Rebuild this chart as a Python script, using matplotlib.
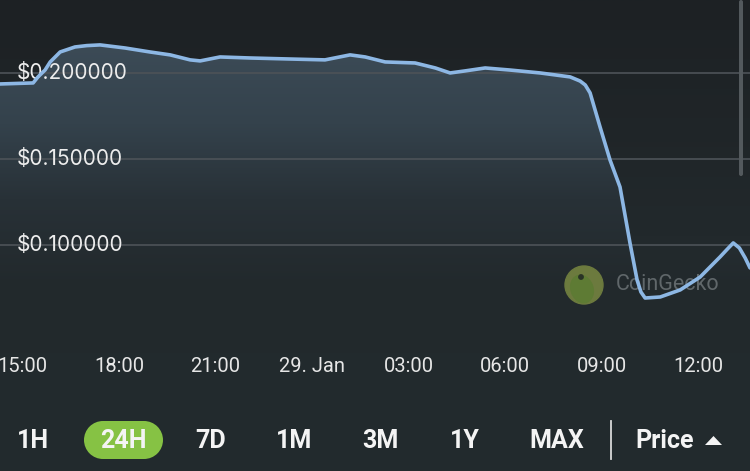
import numpy as np
import matplotlib
matplotlib.use("Agg")
import matplotlib.pyplot as plt
from matplotlib.colors import LinearSegmentedColormap
from matplotlib.patches import Circle, Ellipse, FancyBboxPatch, Polygon

# ---- data (hours since 00:00 28 Jan) ----
hours = [14.30, 15.33, 15.48, 15.70, 15.86, 16.17, 16.63, 17.00, 17.41, 18.19, 18.96, 19.59, 20.21,
         20.52, 21.14, 22.07, 23.32, 24.40, 25.18, 25.65, 26.27, 27.20, 27.83,
         28.29, 28.76, 29.38, 30.15, 31.09, 32.02, 32.33, 32.49, 32.64, 32.95, 33.26,
         33.57, 33.88, 34.10, 34.22, 34.35, 34.82, 35.44, 36.06, 36.68, 36.90, 37.09, 37.28, 37.46, 37.61]
price = [0.1936, 0.1942, 0.1977, 0.2017, 0.2064, 0.2122, 0.2151, 0.2159, 0.2163, 0.2145, 0.2122, 0.2105, 0.2076,
         0.2070, 0.2093, 0.2087, 0.2081, 0.2076, 0.2105, 0.2093, 0.2064, 0.2058, 0.2029,
         0.2000, 0.2012, 0.2029, 0.2017, 0.2000, 0.1977, 0.1953, 0.1930, 0.1884, 0.1686, 0.1494,
         0.1337, 0.1012, 0.0797, 0.0727, 0.0692, 0.0698, 0.0739, 0.0814, 0.0931, 0.0975, 0.1012, 0.0983, 0.0925, 0.0867]
y_ticks = [0.10, 0.15, 0.20]
y_labels = ["$0.100000", "$0.150000", "$0.200000"]
x_ticks = [15, 18, 21, 24, 27, 30, 33, 36]
x_labels = ["15:00", "18:00", "21:00", "29. Jan", "03:00", "06:00", "09:00", "12:00"]
buttons = ["1H", "24H", "7D", "1M", "3M", "1Y", "MAX"]
active_button = "24H"

W, H = 750, 471
fig = plt.figure(figsize=(W / 100, H / 100), dpi=100)
fig.patch.set_facecolor("#21272a")

# background gradient
bg = fig.add_axes([0, 0, 1, 1], zorder=0)
bg.set_axis_off()
bgcmap = LinearSegmentedColormap.from_list("bg", ["#1d2124", "#22292c", "#232b2e"])
bg.imshow(np.linspace(0, 1, 256).reshape(-1, 1), cmap=bgcmap, aspect="auto",
          extent=[0, 1, 0, 1], origin="upper")
bg.set_xlim(0, 1); bg.set_ylim(0, 1)

# chart axes: pixel rows 0..340
ax = fig.add_axes([0, (H - 340) / H, 1, 340 / H], zorder=1)
ax.patch.set_alpha(0)
xmin, xmax = 14.30, 37.61
ymin, ymax = 0.0448, 0.2424
ax.set_xlim(xmin, xmax)
ax.set_ylim(ymin, ymax)
for s in ax.spines.values():
    s.set_visible(False)
ax.set_yticks([])
ax.set_xticks([])

# gridlines + labels
for v, lab in zip(y_ticks, y_labels):
    ax.axhline(v, color="#4d5358", lw=1.2, zorder=2)
    ax.text(xmin + 17 / 750 * (xmax - xmin), v, lab, family=["Inter", "DejaVu Sans"],
            fontsize=15, color="#ececec", va="center", ha="left", zorder=4)

# gradient fill under line
fillcmap = LinearSegmentedColormap.from_list(
    "fill", [(0.0, "#3d4c58"), (0.35, "#34424c"), (0.65, "#283137"), (1.0, "#22292c")])
grad = ax.imshow(np.linspace(0, 1, 256).reshape(-1, 1), cmap=fillcmap, aspect="auto",
                 extent=[xmin, xmax, 0.075, 0.222], origin="upper", zorder=1)
poly = Polygon(list(zip(hours, price)) + [(hours[-1], ymin), (hours[0], ymin)],
               closed=True, transform=ax.transData, facecolor="none", edgecolor="none")
ax.add_patch(poly)
grad.set_clip_path(poly)
ax.set_xlim(xmin, xmax)
ax.set_ylim(ymin, ymax)

# watermark + scrollbar
fig_ax = fig.add_axes([0, 0, 1, 1], zorder=1.5)
fig_ax.set_axis_off()
fig_ax.set_xlim(0, W); fig_ax.set_ylim(H, 0)
fig_ax.add_patch(Circle((584, 285), 19, color="#6c7a3e", zorder=1))
fig_ax.add_patch(Ellipse((582, 289), 22, 28, angle=-20, color="#5e7b34", zorder=2))
fig_ax.add_patch(Circle((581, 277), 2.2, color="#2a3326", zorder=3))
fig_ax.text(616, 285, "CoinGecko", family=["Roboto", "DejaVu Sans"], fontsize=15.5,
            color="#60676a", va="center", ha="left")
fig_ax.add_patch(FancyBboxPatch((739, 0), 4, 176, boxstyle="round,pad=0,rounding_size=2",
                                color="#53595d", lw=0))

# line on top
ax2 = fig.add_axes(ax.get_position(), zorder=3)
ax2.patch.set_alpha(0)
ax2.set_xlim(xmin, xmax); ax2.set_ylim(ymin, ymax)
ax2.set_axis_off()
ax2.plot(hours, price, color="#8db7e4", lw=2.6, solid_joinstyle="round",
         solid_capstyle="round")

# x tick labels
ui = fig.add_axes([0, 0, 1, 1], zorder=4)
ui.set_axis_off()
ui.set_xlim(0, W); ui.set_ylim(H, 0)
for t, lab in zip(x_ticks, x_labels):
    px = (t - xmin) / (xmax - xmin) * W
    ui.text(px, 366, lab, family=["Roboto", "DejaVu Sans"], fontsize=14.5,
            color="#e6e6e6", ha="center", va="center")

# buttons
bx = [33, 123, 211, 294, 380, 465, 557]
for x, lab in zip(bx, buttons):
    if lab == active_button:
        ui.add_patch(Circle((103, 440), 19, color="#86c244", lw=0))
        ui.add_patch(Circle((144, 440), 19, color="#86c244", lw=0))
        ui.add_patch(plt.Rectangle((103, 421), 41, 38, color="#86c244", lw=0))
    ui.text(x, 441, lab, family=["Roboto", "DejaVu Sans"], fontweight="bold",
            fontsize=18, color="#f4f4f4", ha="center", va="center")
ui.plot([610.5, 610.5], [421, 459], color="#d8d8d8", lw=1.3)
ui.text(665, 441, "Price", family=["Roboto", "DejaVu Sans"], fontweight="bold",
        fontsize=18, color="#f4f4f4", ha="center", va="center")
ui.add_patch(Polygon([(705, 445), (722, 445), (713.5, 436)], closed=True,
                     color="#f4f4f4", lw=0))

fig.savefig("out.png", dpi=100, facecolor=fig.get_facecolor())
